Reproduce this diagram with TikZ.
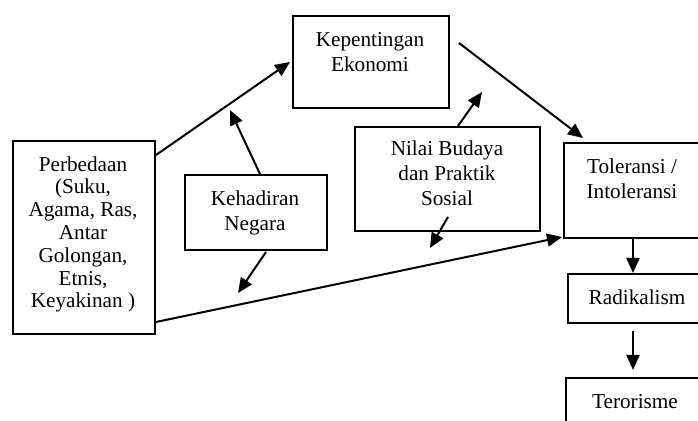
\documentclass[tikz,border=0pt]{standalone}
\usepackage{fontspec}
\setmainfont{Liberation Serif}
\usetikzlibrary{arrows.meta,calc}
\begin{document}
\begin{tikzpicture}[x=0.5pt,y=-0.5pt,
  box/.style={draw=black,line width=1pt,rectangle,inner sep=0pt,anchor=north west},
  txt/.style={align=center,inner sep=0pt,font=\fontsize{10.6}{12.7}\selectfont},
  txttight/.style={align=center,inner sep=0pt,font=\fontsize{10.6}{11.4}\selectfont},
  arr/.style={line width=1pt,-{Triangle[length=7.5pt,width=6.5pt]}}]
\useasboundingbox (0,0) rectangle (698,421);
\clip (0,0) rectangle (698,421);
% boxes
\node[box,minimum width=71pt,minimum height=96.5pt] (perb) at (12,140) {};
\node[box,minimum width=78pt,minimum height=46pt] (kep) at (292,15) {};
\node[box,minimum width=71pt,minimum height=37.5pt] (keh) at (184,174) {};
\node[box,minimum width=92.5pt,minimum height=52pt] (nil) at (354,126) {};
\node[box,minimum width=69pt,minimum height=47.5pt] (tol) at (563,142) {};
\node[box,minimum width=70pt,minimum height=24.5pt] (rad) at (567,273) {};
\node[box,minimum width=70pt,minimum height=35pt] (ter) at (565,377) {};
% texts
\node[txttight,anchor=north] (tperb) at (83,156) {Perbedaan\\(Suku,\\Agama, Ras,\\Antar\\Golongan,\\Etnis,\\Keyakinan )};
\node[txt,anchor=north] (tkep) at (370,32) {Kepentingan\\Ekonomi};
\node[txt,anchor=north] (tkeh) at (255,190) {Kehadiran\\Negara};
\node[txt,anchor=north] (tnil) at (447,140) {Nilai Budaya\\dan Praktik\\Sosial};
\node[txt,anchor=north] (ttol) at (632,158) {Toleransi /\\Intoleransi};
\node[txt] (trad) at (637,297) {Radikalism};
\node[txt] (tter) at (635,402) {Terorisme};
% free arrow ends
\coordinate (kehup) at (230,110);
\coordinate (kehdn) at (238,293);
\coordinate (nilup) at (482,92);
\coordinate (nildn) at (430,248);
% connectors
\draw[arr] ($(perb.north east)+(0,15)$) -- ($(kep.north west)+(-2,47)$);
\draw[arr] ($(keh.north west)+(76,0)$) -- (kehup);
\draw[arr] ($(keh.south west)+(82,1)$) -- (kehdn);
\draw[arr] ($(kep.north east)+(9,28)$) -- ($(tol.north west)+(20,-4)$);
\draw[arr] ($(nil.north west)+(104,0)$) -- (nilup);
\draw[arr] ($(nil.south west)+(94,-15)$) -- (nildn);
\draw[arr] ($(perb.south east)+(0,-13)$) -- ($(tol.south west)+(-1,-2)$);
\draw[arr] ($(tol.south west)+(70,0)$) -- ($(rad.north west)+(66,0)$);
\draw[arr] ($(rad.south west)+(66,7)$) -- ($(ter.north west)+(68,-7)$);
\end{tikzpicture}
\end{document}
